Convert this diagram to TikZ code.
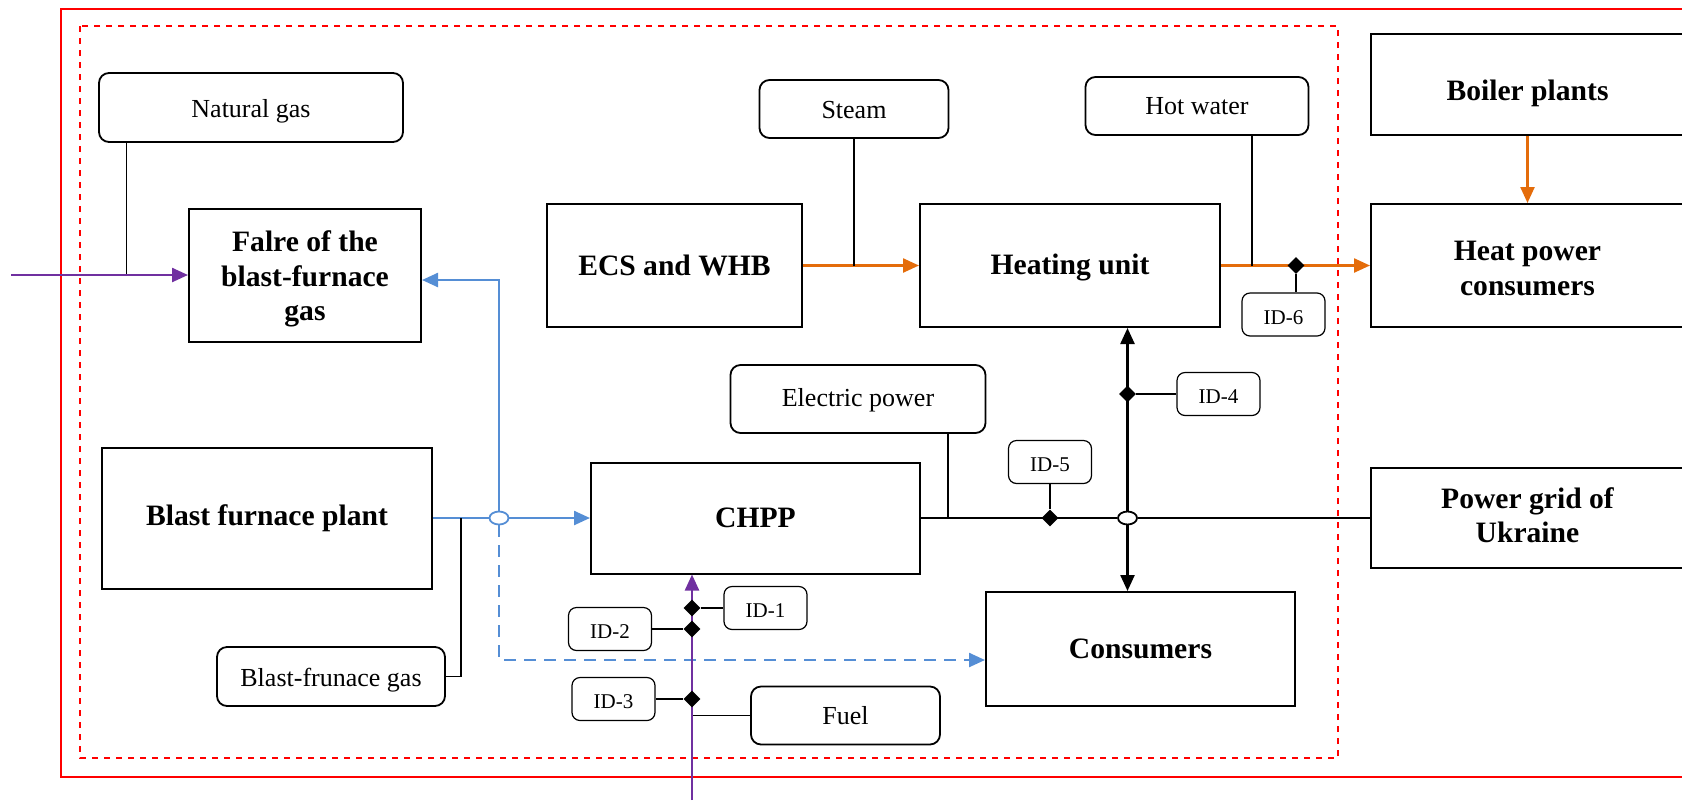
\documentclass[tikz,border=0pt]{standalone}
\usepackage{fontspec}
\setmainfont{Liberation Serif}
\usetikzlibrary{arrows.meta,shapes.geometric}
\definecolor{flowblue}{RGB}{85,142,213}
\definecolor{flowora}{RGB}{228,108,10}
\definecolor{flowvio}{RGB}{112,48,160}

\begin{document}
\begin{tikzpicture}[x=0.5pt, y=-0.5pt,
  unit/.style={draw, line width=1pt, align=center, inner sep=2pt, font=\bfseries\fontsize{14.8}{17.4}\selectfont},
  medium/.style={draw, line width=0.9pt, rounded corners=5pt, font=\fontsize{13}{15}\selectfont},
  idtag/.style={draw, line width=0.6pt, rounded corners=4pt, minimum width=41.5pt, minimum height=21.5pt, text height=10pt, font=\fontsize{10.5}{12}\selectfont},
  meter/.style={diamond, fill=black, inner sep=0pt, minimum size=8.5pt},
  cross/.style={ellipse, draw, fill=white, line width=0.9pt, inner sep=0pt, minimum width=9.5pt, minimum height=6.5pt},
  flow/.style={line width=1.2pt, -{Triangle[length=8pt, width=7pt]}},
  tap/.style={line width=0.6pt}]
  \clip (0,0) rectangle (1682,800);
  \draw[red, line width=1pt] (61,8.6) rectangle (1700,777);
  \draw[red, dashed, line width=0.6pt] (80,26) rectangle (1338,758);

  \node[medium, minimum width=152pt, minimum height=34.5pt, text height=10.2pt, text depth=0pt] (ng) at (251,107.5) {Natural gas};
  \node[unit, minimum width=116pt, minimum height=66.5pt] (flare) at (305,275) {\rule{0pt}{14.3pt}Falre of the\\blast-furnace\\gas};
  \node[unit, minimum width=165pt, minimum height=70.5pt] (bfp) at (267,518) {Blast furnace plant};
  \node[medium, minimum width=114pt, minimum height=29.5pt, text height=10.2pt, text depth=0pt] (bfg) at (331,676.5) {Blast-frunace gas};
  \node[unit, minimum width=164.5pt, minimum height=55.5pt] (chpp) at (755.5,518) {CHPP};
  \node[unit, minimum width=127.5pt, minimum height=61.5pt] (ecs) at (674.5,265.5) {ECS and WHB};
  \node[medium, minimum width=94.5pt, minimum height=29pt, text height=9.5pt] (steam) at (854,109) {Steam};
  \node[unit, minimum width=150pt, minimum height=61.5pt, text depth=1.2pt] (heat) at (1070,265.5) {Heating unit};
  \node[medium, minimum width=111.5pt, minimum height=29pt] (hw) at (1197,106) {Hot water};
  \node[medium, minimum width=127.5pt, minimum height=34pt, text depth=2pt] (ep) at (858,399) {Electric power};
  \node[unit, minimum width=154.5pt, minimum height=57pt] (cons) at (1140.5,649) {Consumers};
  \node[medium, minimum width=94.5pt, minimum height=29pt] (fuel) at (845.5,715.5) {Fuel};
  \node[unit, minimum width=156.5pt, minimum height=50.5pt, text height=16pt, text depth=0pt] (boiler) at (1527.5,84.5) {Boiler plants};
  \node[unit, minimum width=156.5pt, minimum height=61.5pt] (hpc) at (1527.5,265.5) {\rule{0pt}{12.3pt}Heat power\\consumers};
  \node[unit, minimum width=156.5pt, minimum height=50pt] (grid) at (1527.5,518) {Power grid of\\Ukraine\rule[-3pt]{0pt}{3pt}};

  \node[idtag] (id1) at (765.5,608) {ID-1};
  \node[idtag] (id2) at (610,629) {ID-2};
  \node[idtag] (id3) at (613.5,699) {ID-3};
  \node[idtag] (id4) at (1218.5,394) {ID-4};
  \node[idtag] (id5) at (1050,462) {ID-5};
  \node[idtag] (id6) at (1283.5,314.5) {ID-6};

  \node[cross, draw=flowblue] (xb) at (499,518) {};
  \node[cross] (xk) at (1127.5,518) {};

  \coordinate (fin) at (11,275);
  \coordinate (fuelin) at (692,800);
  \coordinate (bfgj) at (461,518);
  \coordinate (ngtap) at ([xshift=14pt]ng.south west);
  \coordinate (hwtap) at ([xshift=27.5pt]hw.south);
  \coordinate (eptap) at ([xshift=45pt]ep.south);

  \draw[tap] (ngtap) -- (ngtap |- fin);
  \draw[flow, flowvio] (fin) -- (flare.west);
  \draw[flowblue, line width=1.2pt] (bfp.east) -- (xb);
  \draw[flow, flowblue] (xb) -- (chpp.west);
  \draw[flow, flowblue] (xb.north) |- ([yshift=-2.5pt]flare.east);
  \draw[flow, flowblue, dash pattern=on 6pt off 4pt] (xb.south) |- ([yshift=-5.5pt]cons.west);
  \draw[tap] (bfg.east) -| (bfgj);
  \draw[tap] (fuel.west) -- (fuel.west -| fuelin);
  \draw[flow, flowvio] (fuelin) -- (fuelin |- chpp.south);

  \draw[flow, flowora] (ecs.east) -- (heat.west);
  \draw[tap] (steam.south) -- (steam.south |- ecs.east);
  \draw[flow, flowora] (heat.east) -- (hpc.west);
  \draw[tap] (hwtap) -- (hwtap |- heat.east);
  \draw[flow, flowora] (boiler.south) -- (hpc.north);

  \draw[line width=1.2pt] (chpp.east) -- (xk.west);
  \draw[line width=1.2pt] (xk.east) -- (grid.west);
  \draw[line width=0.8pt] (eptap) -- (eptap |- chpp.east);
  \draw[flow] (xk.north) -- (xk.north |- heat.south);
  \draw[flow] (xk.south) -- (xk.south |- cons.north);

  \node[meter] (m1) at (692,608) {};
  \node[meter] (m2) at (692,629) {};
  \node[meter] (m3) at (692,699) {};
  \node[meter] (m4) at (1127.5,394) {};
  \node[meter] (m5) at (1050,518) {};
  \node[meter] (m6) at (1296,265.5) {};
  \draw[line width=1.2pt] (m1) -- (id1.west);
  \draw[line width=1.2pt] (m2) -- (id2.east);
  \draw[line width=1.2pt] (m3) -- (id3.east);
  \draw[line width=1.2pt] (m4) -- (id4.west);
  \draw[line width=1.2pt] (m5) -- (id5.south);
  \draw[line width=1.2pt] (m6) -- (m6 |- id6.north);
\end{tikzpicture}
\end{document}
